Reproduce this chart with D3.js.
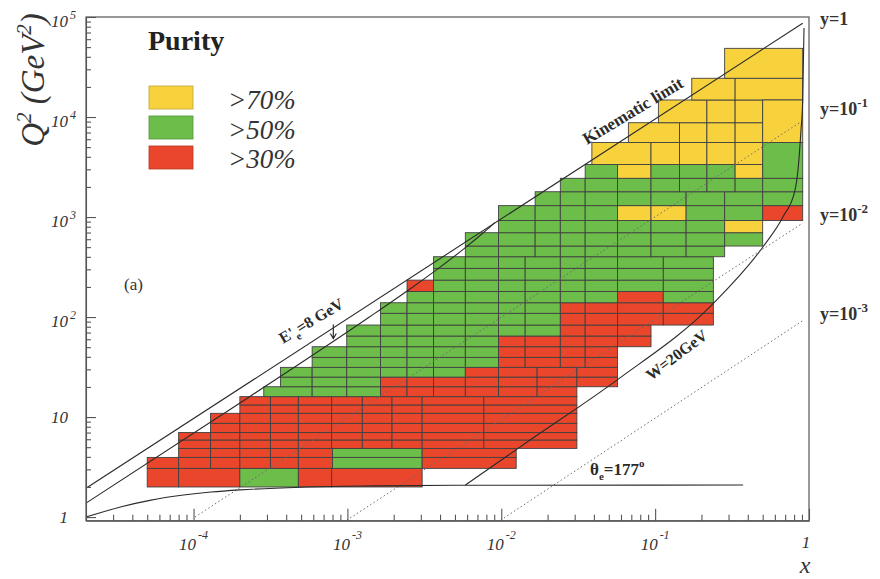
<!DOCTYPE html>
<html>
<head>
<meta charset="utf-8">
<script src="https://cdn.jsdelivr.net/npm/d3@7"></script>
<style>
body { margin: 0; background: #fff; }
text { font-family: "Liberation Serif", "Times New Roman", serif; }
</style>
</head>
<body>
<script>
// Q2 bin edges (GeV^2), bottom to top
var qEdges = [2.0, 3.07, 3.95, 4.86, 5.9, 7.0, 8.65, 10.9, 13.2, 16.0, 20.1, 25.1, 31.4, 39.5,
  50.5, 64.6, 83.2, 109, 139, 180, 234, 307, 401, 513, 697, 923, 1300, 1790, 2440, 3350,
  5560, 8770, 14800, 24400, 48600];

// every row: [lower, upper] index into qEdges
var rowBin = [[0,1],[1,2],[2,3],[3,4],[4,5],[5,6],[6,7],[7,8],[8,9],[9,10],[10,11],[11,12],
  [12,13],[13,14],[14,15],[15,16],[16,17],[17,18],[18,19],[19,20],[20,21],[21,22],[22,23],
  [23,24],[24,25],[25,26],[26,27],[27,28],[28,29],[29,30],[30,31],[31,32],[32,33],[33,34],
  [28,30],[30,32]];

// x bin edges of each row
var rowX = [
  [5e-5, 8e-5, 2e-4, 4.8e-4, 7.9e-4, 3.06e-3],
  [5e-5, 8e-5, 1.29e-4, 2e-4, 3.16e-4, 4.8e-4, 8e-4, 3.06e-3, 1.25e-2],
  [8e-5, 1.29e-4, 2e-4, 3.16e-4, 4.8e-4, 8e-4, 3.06e-3, 1.25e-2],
  [8e-5, 1.29e-4, 2e-4, 3.16e-4, 4.8e-4, 7.9e-4, 1.25e-3, 1.95e-3, 3.06e-3, 7.7e-3, 3.1e-2],
  [8e-5, 1.29e-4, 2e-4, 3.16e-4, 4.8e-4, 7.9e-4, 1.25e-3, 1.95e-3, 3.06e-3, 7.7e-3, 3.1e-2],
  [1.29e-4, 2e-4, 3.16e-4, 4.8e-4, 7.9e-4, 1.25e-3, 1.95e-3, 3.06e-3, 7.7e-3, 3.1e-2],
  [1.29e-4, 2e-4, 3.16e-4, 4.8e-4, 7.9e-4, 1.25e-3, 1.95e-3, 3.06e-3, 7.7e-3, 3.1e-2],
  [2e-4, 3.16e-4, 4.8e-4, 7.9e-4, 1.25e-3, 1.95e-3, 3.06e-3, 7.7e-3, 3.1e-2],
  [2e-4, 3.16e-4, 4.8e-4, 7.9e-4, 1.25e-3, 1.95e-3, 3.06e-3, 7.7e-3, 3.1e-2],
  [2.86e-4, 5.9e-4, 9.9e-4, 1.64e-3, 2.44e-3, 3.63e-3, 5.84e-3, 9.6e-3, 1.71e-2, 3.1e-2],
  [3.67e-4, 5.9e-4, 9.9e-4, 1.64e-3, 2.44e-3, 3.63e-3, 5.84e-3, 9.6e-3, 1.71e-2, 3.1e-2, 5.7e-2],
  [3.67e-4, 5.9e-4, 9.9e-4, 1.64e-3, 2.44e-3, 3.63e-3, 5.84e-3, 9.6e-3, 1.71e-2, 3.1e-2, 5.7e-2],
  [5.9e-4, 9.9e-4, 1.64e-3, 2.44e-3, 3.63e-3, 5.84e-3, 9.6e-3, 1.43e-2, 2.42e-2, 3.51e-2, 5.7e-2],
  [5.9e-4, 9.9e-4, 1.64e-3, 2.44e-3, 3.63e-3, 5.84e-3, 9.6e-3, 1.43e-2, 2.42e-2, 3.51e-2, 5.7e-2],
  [9.9e-4, 1.64e-3, 2.44e-3, 3.63e-3, 5.84e-3, 9.6e-3, 1.43e-2, 2.42e-2, 3.51e-2, 5.7e-2, 9.4e-2],
  [9.9e-4, 1.64e-3, 2.44e-3, 3.63e-3, 5.84e-3, 9.6e-3, 1.43e-2, 2.42e-2, 3.51e-2, 5.7e-2, 9.4e-2],
  [1.64e-3, 2.44e-3, 3.63e-3, 5.84e-3, 9.6e-3, 1.43e-2, 2.42e-2, 3.51e-2, 5.7e-2, 0.113, 0.239],
  [1.64e-3, 2.44e-3, 3.63e-3, 5.84e-3, 9.6e-3, 1.43e-2, 2.42e-2, 3.51e-2, 5.7e-2, 0.113, 0.239],
  [2.44e-3, 3.63e-3, 5.84e-3, 9.6e-3, 1.43e-2, 2.42e-2, 3.51e-2, 5.7e-2, 0.113, 0.239],
  [2.44e-3, 3.63e-3, 5.84e-3, 9.6e-3, 1.43e-2, 2.42e-2, 3.51e-2, 5.7e-2, 0.113, 0.239],
  [3.63e-3, 5.84e-3, 9.6e-3, 1.43e-2, 2.42e-2, 3.51e-2, 5.7e-2, 0.113, 0.239],
  [3.63e-3, 5.84e-3, 9.6e-3, 1.43e-2, 2.42e-2, 3.51e-2, 5.7e-2, 0.113, 0.239],
  [5.84e-3, 9.6e-3, 1.66e-2, 2.42e-2, 3.51e-2, 5.7e-2, 9.4e-2, 0.159, 0.283],
  [5.84e-3, 9.6e-3, 1.66e-2, 2.42e-2, 3.51e-2, 5.7e-2, 9.4e-2, 0.159, 0.283, 0.5],
  [9.6e-3, 1.66e-2, 2.42e-2, 3.51e-2, 5.7e-2, 9.4e-2, 0.159, 0.283, 0.5],
  [9.6e-3, 1.66e-2, 2.42e-2, 3.51e-2, 5.7e-2, 9.4e-2, 0.159, 0.283, 0.5, 0.91],
  [1.66e-2, 2.42e-2, 3.51e-2, 5.7e-2, 9.4e-2, 0.159, 0.283, 0.5, 0.91],
  [2.42e-2, 3.51e-2, 5.7e-2, 9.4e-2, 0.144, 0.217, 0.331, 0.5, 0.91],
  [3.51e-2, 5.7e-2, 9.4e-2, 0.144, 0.217, 0.331, 0.5],
  [3.88e-2, 9.4e-2, 0.144, 0.217, 0.331, 0.5],
  [6.7e-2, 0.144, 0.217, 0.331, 0.5],
  [0.105, 0.217, 0.331, 0.5],
  [0.173, 0.331, 0.91],
  [0.283, 0.91],
  [0.5, 0.91],
  [0.5, 0.91]
];

// purity class of each cell: Y >70%, G >50%, R >30%
var rowPurity = [
  'RRGRR', 'RRRRRRGR', 'RRRRRGR', 'RRRRRRRRRR', 'RRRRRRRRRR', 'RRRRRRRRR', 'RRRRRRRRR',
  'RRRRRRRR', 'RRRRRRRR', 'GGGRRRRRR', 'GGGRRRRRRR', 'GGGGGGRRRR', 'GGGGGGRRRR', 'GGGGGGRRRR',
  'GGGGGRRRRR', 'GGGGGGGRRR', 'GGGGGGRRRR', 'GGGGGGRRRR', 'GGGGGGGRG', 'RGGGGGGGG',
  'GGGGGGGG', 'GGGGGGGG', 'GGGGGGGG', 'GGGGGGGGG', 'GGGGGGGY', 'GGGGYYGGR', 'GGGGGGGG',
  'GGGGGGGG', 'GYGGGY', 'YYYYY', 'YYYY', 'YYY', 'YY', 'Y', 'G', 'Y'
];

var legendKeys = ['Y', 'G', 'R'];
var legendLabels = ['>70%', '>50%', '>30%'];

var xMajor = [1e-4, 1e-3, 1e-2, 1e-1, 1];
var yMajor = [1, 10, 100, 1e3, 1e4, 1e5];

// boundary lines, [x, Q2]
var kinLimit = [[2e-5, 1.94], [0.91, 86500]];
var ePrime8 = [[2e-5, 1.38], [1.45e-4, 10], [1.39e-3, 100], [2.66e-3, 200], [3.83e-3, 300],
  [5.9e-3, 500], [7.67e-3, 700], [8.85e-3, 850], [9.07e-3, 880]];
var w20 = [[5.84e-3, 2.09], [1.54e-2, 5.89], [5.64e-2, 23.4], [0.239, 137], [0.503, 505],
  [0.678, 1007], [0.811, 1862], [0.848, 2950], [0.887, 7400], [0.91, 14800], [0.928, 77600]];
var theta177 = [[2e-5, 1.0], [3.4e-5, 1.27], [5.2e-5, 1.47], [8.6e-5, 1.66], [1.3e-4, 1.78],
  [2e-4, 1.87], [5e-4, 1.99], [1.5e-3, 2.05], [5e-3, 2.08], [0.373, 2.09]];
var yLines = [
  [[1.02e-4, 1.0], [0.91, 9200]],
  [[9.9e-4, 0.93], [0.91, 870]],
  [[9.9e-3, 0.93], [0.91, 92]]
];
var yLineExp = ['', '-1', '-2', '-3'];

var colors = { Y: '#f8d23c', G: '#6cbd4a', R: '#e9462b' };

var width = 880, height = 579;
var svg = d3.select('body').append('svg')
  .attr('width', width).attr('height', height);

var x = d3.scaleLog().domain([2e-5, 1]).range([86, 809]);
var y = d3.scaleLog().domain([0.92, 1e5]).range([520.7, 17]);

// cells
var cells = [];
rowBin.forEach(function(b, r) {
  var ex = rowX[r], ps = rowPurity[r];
  for (var i = 0; i < ps.length; i++) {
    cells.push({ x0: ex[i], x1: ex[i + 1], q0: qEdges[b[0]], q1: qEdges[b[1]], p: ps[i] });
  }
});

svg.append('g')
  .selectAll('rect')
  .data(cells)
  .enter()
  .append('rect')
  .attr('x', function(d) { return x(d.x0); })
  .attr('width', function(d) { return x(d.x1) - x(d.x0); })
  .attr('y', function(d) { return y(d.q1); })
  .attr('height', function(d) { return y(d.q0) - y(d.q1); })
  .attr('fill', function(d) { return colors[d.p]; })
  .attr('stroke', '#404040')
  .attr('stroke-width', 0.9);

// lines
var line = d3.line()
  .x(function(d) { return x(d[0]); })
  .y(function(d) { return y(d[1]); });
var curve = d3.line()
  .x(function(d) { return x(d[0]); })
  .y(function(d) { return y(d[1]); })
  .curve(d3.curveMonotoneX);

var gl = svg.append('g').attr('fill', 'none');
yLines.forEach(function(l) {
  gl.append('path').attr('d', line(l))
    .attr('stroke', '#6a6a6a').attr('stroke-width', 1).attr('stroke-dasharray', '1.5,2.5');
});
gl.append('path').attr('d', line(kinLimit)).attr('stroke', '#2b2b2b').attr('stroke-width', 1.1);
gl.append('path').attr('d', curve(ePrime8)).attr('stroke', '#2b2b2b').attr('stroke-width', 1.1);
gl.append('path').attr('d', curve(w20)).attr('stroke', '#2b2b2b').attr('stroke-width', 1.1);
gl.append('path').attr('d', curve(theta177)).attr('stroke', '#2b2b2b').attr('stroke-width', 1.1);

// arrow onto the E'=8 GeV line
var ax = x(8.1e-4), ay0 = y(84), ay1 = y(61);
gl.append('path')
  .attr('d', 'M' + ax + ',' + ay0 + 'L' + ax + ',' + ay1 + 'M' + (ax - 3) + ',' + (ay1 - 5) + 'L' + ax + ',' + ay1 + 'L' + (ax + 3) + ',' + (ay1 - 5))
  .attr('stroke', '#2b2b2b').attr('stroke-width', 1.2);

// axes
function isDecade(d) {
  var l = Math.log10(d);
  return Math.abs(l - Math.round(l)) < 1e-6;
}
var gx = svg.append('g')
  .attr('transform', 'translate(0,' + y.range()[0] + ')')
  .call(d3.axisBottom(x).tickValues(x.ticks()).tickSizeInner(-6).tickSizeOuter(0).tickFormat(''));
gx.selectAll('.tick line').attr('y2', function(d) { return isDecade(d) ? -12 : -6; });
var gy = svg.append('g')
  .attr('transform', 'translate(' + x.range()[0] + ',0)')
  .call(d3.axisLeft(y).tickValues(y.ticks().filter(function(d) { return d >= 1; }))
    .tickSizeInner(-5).tickSizeOuter(0).tickFormat(''));
gy.selectAll('.tick line').attr('x2', function(d) { return isDecade(d) ? 10 : 5; });
svg.selectAll('.domain, .tick line').attr('stroke', '#555').attr('stroke-width', 1.1);

svg.append('rect')
  .attr('x', x.range()[0]).attr('y', y.range()[1])
  .attr('width', x.range()[1] - x.range()[0])
  .attr('height', y.range()[0] - y.range()[1])
  .attr('fill', 'none').attr('stroke', '#555').attr('stroke-width', 1.2);

// tick labels
svg.append('g')
  .selectAll('text')
  .data(xMajor)
  .enter()
  .append('text')
  .attr('x', function(d) { return isDecade(d) && d === 1 ? x(d) - 3 : x(d); })
  .attr('y', function(d) { return d === 1 ? 548 : 550; })
  .attr('text-anchor', 'middle')
  .attr('font-size', 17)
  .attr('font-style', 'italic')
  .attr('fill', '#333')
  .each(function(d) {
    var e = Math.round(Math.log10(d));
    var t = d3.select(this);
    if (e === 0) { t.text('1'); return; }
    t.append('tspan').text('10');
    t.append('tspan').attr('dy', -11).attr('dx', 2).attr('font-size', 12).text(e);
  });

var gyl = svg.append('g').attr('font-size', 17).attr('font-style', 'italic').attr('fill', '#333');
yMajor.forEach(function(d) {
  var e = Math.round(Math.log10(d));
  var ty = y(d);
  if (e < 2) {
    gyl.append('text').attr('x', 68).attr('y', ty + 6).attr('text-anchor', 'end').text(e === 0 ? '1' : '10');
  } else {
    gyl.append('text').attr('x', 68).attr('y', ty + 10).attr('text-anchor', 'end').text('10');
    gyl.append('text').attr('x', 70).attr('y', ty + 2).attr('font-size', 12).text(e);
  }
});

// axis titles
var yt = svg.append('text')
  .attr('transform', 'translate(44,80) rotate(-90)')
  .attr('text-anchor', 'middle')
  .attr('font-size', 33)
  .attr('font-style', 'italic')
  .attr('fill', '#333');
yt.append('tspan').text('Q');
yt.append('tspan').attr('dy', -13).attr('font-size', 21).text('2');
yt.append('tspan').attr('dy', 13).text(' (GeV');
yt.append('tspan').attr('dy', -13).attr('font-size', 21).text('2');
yt.append('tspan').attr('dy', 13).text(')');

svg.append('text')
  .attr('x', 805).attr('y', 573)
  .attr('text-anchor', 'middle')
  .attr('font-size', 24)
  .attr('font-style', 'italic')
  .attr('fill', '#333')
  .text('x');

// legend
svg.append('text')
  .attr('x', 148).attr('y', 50)
  .attr('font-size', 28).attr('font-weight', 'bold').attr('fill', '#222')
  .text('Purity');
var lg = svg.append('g');
legendKeys.forEach(function(k, i) {
  lg.append('rect')
    .attr('x', 149).attr('y', 86 + i * 30)
    .attr('width', 44).attr('height', 23)
    .attr('fill', colors[k])
    .attr('stroke', d3.color(colors[k]).darker(0.7)).attr('stroke-width', 0.8);
  lg.append('text')
    .attr('x', 228).attr('y', 109 + i * 29.5)
    .attr('font-size', 27).attr('font-style', 'italic').attr('fill', '#333')
    .text(legendLabels[i]);
});

svg.append('text')
  .attr('x', 124).attr('y', 290)
  .attr('font-size', 17).attr('fill', '#333')
  .text('(a)');

// y = const labels on the right
var yLabelBase = [25, 115, 221, 320];
yLineExp.forEach(function(e, i) {
  var t = svg.append('text')
    .attr('x', 820).attr('y', yLabelBase[i])
    .attr('font-size', 18).attr('font-weight', 'bold').attr('fill', '#333');
  if (e === '') { t.text('y=1'); return; }
  t.append('tspan').text('y=10');
  t.append('tspan').attr('dy', -8).attr('font-size', 13).text(e);
});

// curve labels
svg.append('text')
  .attr('transform', 'translate(587,145) rotate(-31)')
  .attr('font-size', 17).attr('font-weight', 'bold').attr('fill', '#2b2b2b')
  .text('Kinematic limit');

var et = svg.append('text')
  .attr('transform', 'translate(283,344) rotate(-31)')
  .attr('font-size', 16).attr('font-weight', 'bold').attr('fill', '#2b2b2b');
et.append('tspan').text("E'");
et.append('tspan').attr('dy', 5).attr('font-size', 11).text('e');
et.append('tspan').attr('dy', -5).text('=8 GeV');

svg.append('text')
  .attr('transform', 'translate(651,381) rotate(-37)')
  .attr('font-size', 16).attr('font-weight', 'bold').attr('fill', '#2b2b2b')
  .text('W=20GeV');

var tt = svg.append('text')
  .attr('x', 590).attr('y', 475)
  .attr('font-size', 17).attr('font-weight', 'bold').attr('fill', '#2b2b2b');
tt.append('tspan').text('\u03b8');
tt.append('tspan').attr('dy', 5).attr('font-size', 11).text('e');
tt.append('tspan').attr('dy', -5).text('=177');
tt.append('tspan').attr('dy', -8).attr('font-size', 11).text('o');
</script>
</body>
</html>
